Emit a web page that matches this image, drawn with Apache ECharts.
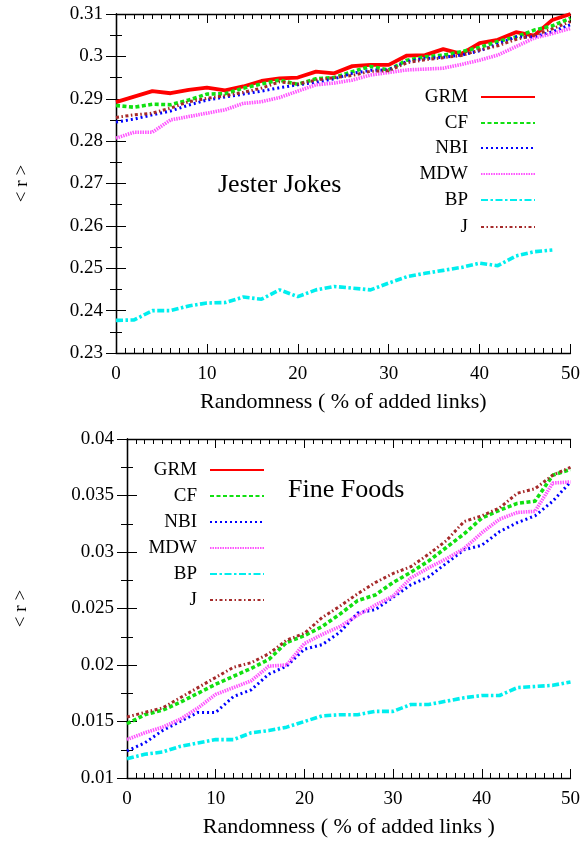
<!DOCTYPE html>
<html><head><meta charset="utf-8">
<script src="https://cdn.jsdelivr.net/npm/echarts@6/dist/echarts.min.js"></script>
<style>html,body{margin:0;padding:0;background:#fff}#c{width:583px;height:841px}</style>
</head><body><div id="c"></div>
<script>
// ---------- data ----------
const xs = [0,2,4,6,8,10,12,14,16,18,20,22,24,26,28,30,32,34,36,38,40,42,44,46,48,50];
const seriesNames = ['GRM','CF','NBI','MDW','BP','J'];
const xTicks = [0,10,20,30,40,50];

// Jester Jokes
const jesterGRM = [0.2892,0.2905,0.2918,0.2913,0.2921,0.2926,0.2920,0.2929,0.2942,0.2948,0.2950,0.2964,0.2960,0.2977,0.2980,0.2980,0.3002,0.3003,0.3017,0.3006,0.3031,0.3039,0.3057,0.3049,0.3086,0.3100];
const jesterCF  = [0.2884,0.2880,0.2887,0.2886,0.2897,0.2911,0.2912,0.2925,0.2935,0.2944,0.2934,0.2947,0.2950,0.2964,0.2976,0.2968,0.2991,0.2999,0.3003,0.3011,0.3021,0.3035,0.3046,0.3062,0.3072,0.3090];
const jesterNBI = [0.2845,0.2852,0.2862,0.2871,0.2885,0.2897,0.2904,0.2911,0.2918,0.2926,0.2933,0.2939,0.2947,0.2960,0.2967,0.2968,0.2988,0.2995,0.2998,0.3003,0.3013,0.3029,0.3046,0.3046,0.3058,0.3075];
const jesterMDW = [0.2807,0.2821,0.2821,0.2850,0.2858,0.2866,0.2874,0.2889,0.2893,0.2903,0.2918,0.2933,0.2937,0.2944,0.2956,0.2962,0.2968,0.2970,0.2972,0.2981,0.2991,0.3003,0.3023,0.3043,0.3054,0.3066];
const jesterBP  = [0.2377,0.2378,0.2400,0.2400,0.2411,0.2418,0.2419,0.2432,0.2427,0.2449,0.2433,0.2449,0.2457,0.2453,0.2449,0.2465,0.2480,0.2488,0.2495,0.2502,0.2512,0.2506,0.2529,0.2539,0.2543,null];
const jesterJ   = [0.2856,0.2862,0.2866,0.2878,0.2893,0.2901,0.2907,0.2915,0.2925,0.2940,0.2935,0.2944,0.2950,0.2955,0.2965,0.2966,0.2985,0.2992,0.2997,0.3002,0.3015,0.3025,0.3040,0.3050,0.3065,0.3082];
const jesterYTicks = [0.23,0.24,0.25,0.26,0.27,0.28,0.29,0.3,0.31];

// Fine Foods (GRM curve not visible in the plot, legend entry only)
const foodsGRM = [];
const foodsCF  = [0.0148,0.0156,0.0160,0.0167,0.0175,0.0183,0.0190,0.0197,0.0205,0.0220,0.0226,0.0234,0.0245,0.0257,0.0262,0.0273,0.0282,0.0292,0.0304,0.0316,0.0330,0.0337,0.0343,0.0345,0.0368,0.0373];
const foodsNBI = [0.0124,0.0131,0.0142,0.0150,0.0158,0.0158,0.0172,0.0178,0.0192,0.0199,0.0214,0.0218,0.0229,0.0246,0.0249,0.0260,0.0271,0.0278,0.0290,0.0302,0.0306,0.0318,0.0326,0.0332,0.0345,0.0362];
const foodsMDW = [0.0134,0.0140,0.0145,0.0152,0.0162,0.0174,0.0180,0.0186,0.0199,0.0200,0.0219,0.0227,0.0234,0.0244,0.0253,0.0261,0.0277,0.0286,0.0294,0.0303,0.0317,0.0329,0.0335,0.0336,0.0361,0.0362];
const foodsBP  = [0.0117,0.0121,0.0123,0.0128,0.0131,0.0134,0.0134,0.0140,0.0142,0.0145,0.0150,0.0155,0.0156,0.0156,0.0159,0.0159,0.0165,0.0165,0.0168,0.0171,0.0173,0.0173,0.0180,0.0181,0.0182,0.0185];
const foodsJ   = [0.0154,0.0158,0.0162,0.0171,0.0180,0.0189,0.0198,0.0202,0.0210,0.0222,0.0228,0.0242,0.0252,0.0263,0.0273,0.0281,0.0287,0.0298,0.0310,0.0327,0.0332,0.0339,0.0352,0.0356,0.0368,0.0375];
const foodsYTicks = [0.01,0.015,0.02,0.025,0.03,0.035,0.04];

// ---------- styles ----------
const FONT = "'Liberation Serif','Times New Roman',serif";
const styles = {
  GRM: {color:'#ff0000', width:3.8, type:'solid'},
  CF:  {color:'#11e011', width:3.6, type:[4,2.5]},
  NBI: {color:'#0000ff', width:3, type:[2,3]},
  MDW: {color:'#ff55ff', width:3.6, type:[1.5,1]},
  BP:  {color:'#00eeee', width:3.6, type:[7,2.5,2.5,2.5]},
  J:   {color:'#a52a2a', width:3, type:[3,2.5,1.5,2.5]}
};
const jester = {GRM:jesterGRM, CF:jesterCF, NBI:jesterNBI, MDW:jesterMDW, BP:jesterBP, J:jesterJ};
const foods  = {GRM:foodsGRM, CF:foodsCF, NBI:foodsNBI, MDW:foodsMDW, BP:foodsBP, J:foodsJ};

function pairs(vals){ return vals.map((v,i)=>[xs[i], v]); }
function fmt(v){ return String(+(+v).toFixed(4)); }

const grids = [
  {left:116, right:12, top:14, height:339},
  {left:127, right:12, top:439, height:339}
];

function xAxes(g, name){
  const base = {
    type:'value', gridIndex:g, min:xTicks[0], max:xTicks[xTicks.length-1], interval:10,
    axisLine:{lineStyle:{color:'#000', width:1.3}},
    axisTick:{inside:true, length:9, lineStyle:{color:'#000', width:1}},
    minorTick:{show:true, splitNumber:10, length:5, lineStyle:{color:'#000', width:1}},
    splitLine:{show:false}
  };
  return [
    Object.assign({}, base, {position:'bottom', name:name, nameLocation:'middle', nameGap:38,
      nameTextStyle:{fontFamily:FONT, fontSize:22, color:'#000'},
      axisLabel:{fontFamily:FONT, fontSize:19, color:'#000', margin:12, formatter:fmt}}),
    Object.assign({}, base, {position:'top', axisLabel:{show:false}})
  ];
}
function yAxes(g, ticks, gap){
  const base = {
    type:'value', gridIndex:g, min:ticks[0], max:ticks[ticks.length-1], interval:ticks[1]-ticks[0],
    axisLine:{lineStyle:{color:'#000', width:1.3}},
    axisTick:{inside:true, length:10, lineStyle:{color:'#000', width:1}},
    minorTick:{show:true, splitNumber:2, length:6, lineStyle:{color:'#000', width:1}},
    splitLine:{show:false}
  };
  return [
    Object.assign({}, base, {position:'left', name:'< r >', nameLocation:'middle', nameGap:gap,
      nameTextStyle:{fontFamily:FONT, fontSize:19, color:'#000'},
      axisLabel:{fontFamily:FONT, fontSize:19, color:'#000', margin:13, formatter:fmt}}),
    Object.assign({}, base, {position:'right', axisLabel:{show:false}})
  ];
}

const series = [];
seriesNames.forEach(n=>{
  const st = styles[n];
  series.push({name:n, type:'line', xAxisIndex:0, yAxisIndex:0, data:pairs(jester[n]),
    symbol:'none', showSymbol:false, connectNulls:false, z: n==='GRM'?1:2,
    lineStyle:{color:st.color, width:st.width, type:st.type}, itemStyle:{color:st.color}});
});
seriesNames.forEach(n=>{
  const st = styles[n];
  series.push({name:n, type:'line', xAxisIndex:2, yAxisIndex:2, data:pairs(foods[n]),
    symbol:'none', showSymbol:false,
    lineStyle:{color:st.color, width:st.width, type:st.type}, itemStyle:{color:st.color}});
});

const legends = [];
const topRows = [97,123,148,174,200,227];
const botRows = [470,496,522,548,574,600];
seriesNames.forEach((n,i)=>{
  [[topRows, 47],[botRows, 318]].forEach(([rows, right])=>{
    legends.push({data:[n], orient:'vertical', align:'right', right:right, top:rows[i]-11,
      padding:0, itemWidth:54, itemHeight:12, selectedMode:false,
      itemStyle:{opacity:0, borderWidth:0},
      textStyle:{fontFamily:FONT, fontSize:19, color:'#000', lineHeight:22, padding:[0,8,0,0]}});
  });
});

const option = {
  animation:false,
  backgroundColor:'#fff',
  grid: grids,
  xAxis: [...xAxes(0,'Randomness ( % of added links)'), ...xAxes(1,'Randomness ( % of added links )')],
  yAxis: [...yAxes(0, jesterYTicks, 84), ...yAxes(1, foodsYTicks, 96)],
  legend: legends,
  series: series,
  graphic: [
    {type:'text', left:218, top:172, style:{text:'Jester Jokes', font:"26px "+FONT, fill:'#000'}},
    {type:'text', left:288, top:477, style:{text:'Fine Foods', font:"26px "+FONT, fill:'#000'}}
  ]
};
const chart = echarts.init(document.getElementById('c'), null, {renderer:'canvas'});
chart.setOption(option);
</script></body></html>
